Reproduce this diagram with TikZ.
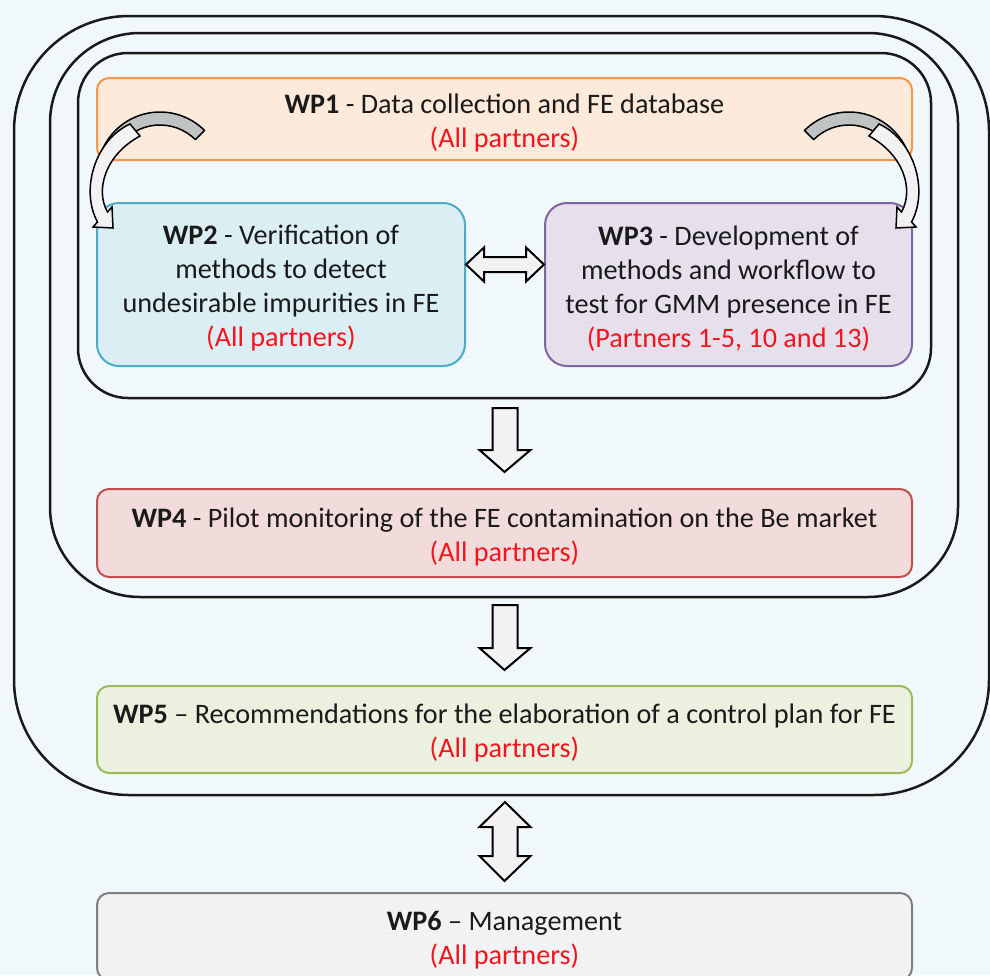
\documentclass[tikz,border=0pt]{standalone}
\usepackage{fontspec}
\setmainfont{Carlito}
\usepackage{xcolor}
\usepackage{tikz}
\usetikzlibrary{
    positioning, % relative placement
    calc % coordinate arithmetic
}

% colours (office theme)
\definecolor{bgblue}{RGB}{241,248,252}
\definecolor{txtgray}{RGB}{26,26,26}
\definecolor{partred}{RGB}{245,20,30}
\definecolor{orngline}{RGB}{247,150,70}
\definecolor{orngfill}{RGB}{253,234,218}
\definecolor{cyanline}{RGB}{75,172,198}
\definecolor{cyanfill}{RGB}{218,238,243}
\definecolor{purpline}{RGB}{128,100,162}
\definecolor{purpfill}{RGB}{229,224,236}
\definecolor{redline}{RGB}{192,80,77}
\definecolor{redfill}{RGB}{242,220,219}
\definecolor{grnline}{RGB}{155,187,89}
\definecolor{grnfill}{RGB}{235,241,222}
\definecolor{grayline}{RGB}{127,127,127}
\definecolor{grayfill}{RGB}{242,242,242}
\definecolor{bandgray}{RGB}{192,195,196}

\newcommand{\wpfont}{\fontsize{28.2}{34}\selectfont}
\newcommand{\partners}[1]{\textcolor{partred}{#1}}
\newcommand{\topstrut}{\rule{0pt}{27pt}} % pushes the text block a little down

\tikzset{
  wpbox/.style={draw, rounded corners=12pt, line width=2pt, inner sep=0pt,
                align=center, font=\wpfont, text=txtgray},
  container/.style={draw=txtgray, line width=2.5pt},
  blockarrow/.style={draw=black, fill=grayfill, line width=2pt, line join=miter},
  bandback/.style={draw=black, fill=bandgray, line width=1.5pt, line join=round},
  bandfront/.style={draw=black, fill=grayfill, line width=1.5pt, line join=miter}
}

% block arrow pointing down, from #1 to #2
\newcommand{\downblock}[2]{%
  \draw[blockarrow] let \p1=(#1), \p2=(#2) in
    (\x1-12.5pt,\y1) -- (\x1+12.5pt,\y1) -- (\x1+12.5pt,\y2+22pt)
    -- (\x1+25.5pt,\y2+22pt) -- (\p2) -- (\x1-25.5pt,\y2+22pt)
    -- (\x1-12.5pt,\y2+22pt) -- cycle;}
% block arrow both ways, vertical
\newcommand{\updownblock}[2]{%
  \draw[blockarrow] let \p1=(#1), \p2=(#2) in
    (\p1) -- (\x1+25.5pt,\y1-25pt) -- (\x1+12.5pt,\y1-25pt)
    -- (\x1+12.5pt,\y2+25pt) -- (\x1+25.5pt,\y2+25pt) -- (\p2)
    -- (\x1-25.5pt,\y2+25pt) -- (\x1-12.5pt,\y2+25pt)
    -- (\x1-12.5pt,\y1-25pt) -- (\x1-25.5pt,\y1-25pt) -- cycle;}
% block arrow both ways, horizontal
\newcommand{\lrblock}[2]{%
  \draw[blockarrow] let \p1=(#1), \p2=(#2) in
    (\p1) -- (\x1+18pt,\y1+17pt) -- (\x1+18pt,\y1+7.5pt)
    -- (\x2-18pt,\y1+7.5pt) -- (\x2-18pt,\y1+17pt) -- (\p2)
    -- (\x2-18pt,\y1-17pt) -- (\x2-18pt,\y1-7.5pt)
    -- (\x1+18pt,\y1-7.5pt) -- (\x1+18pt,\y1-17pt) -- cycle;}

\begin{document}
\begin{tikzpicture}[x=1pt, y=-1pt]
  % frame: 990 x 975, one unit = one pixel, y downwards
  \useasboundingbox (0,0) rectangle (990,975);
  \clip (0,0) rectangle (990,975);
  \fill[bgblue] (0,0) rectangle (990,975);

  % ===================== CONTAINERS =====================
  \draw[container, rounded corners=115pt] (14,16) rectangle (989,795);   % holds WP1-WP5
  \draw[container, rounded corners=90pt]  (50,33) rectangle (958,597);   % holds WP1-WP4
  \draw[container, rounded corners=50pt]  (78,53) rectangle (931,398);   % holds WP1-WP3

  % ===================== WORK PACKAGES =====================
  \node[wpbox, draw=orngline, fill=orngfill, minimum width=815pt, minimum height=82pt]
    (wp1) at (504.5,119)
    {\topstrut\textbf{WP1} - Data collection and FE database\\\partners{(All partners)}};
  \node[wpbox, draw=cyanline, fill=cyanfill, rounded corners=22pt,
        minimum width=368pt, minimum height=163pt]
    (wp2) at (281,284.5)
    {\topstrut\textbf{WP2} - Verification of\\methods to detect\\undesirable impurities in FE\\\partners{(All partners)}};
  \node[wpbox, draw=purpline, fill=purpfill, rounded corners=22pt,
        minimum width=367pt, minimum height=163pt]
    (wp3) at (728.5,284.5)
    {\topstrut\textbf{WP3} - Development of\\methods and workflow to\\test for GMM presence in FE\\\partners{(Partners 1-5, 10 and 13)}};
  \node[wpbox, draw=redline, fill=redfill, minimum width=815pt, minimum height=88pt]
    (wp4) at (504.5,533)
    {\topstrut\textbf{WP4} - Pilot monitoring of the FE contamination on the Be market\\\partners{(All partners)}};
  \node[wpbox, draw=grnline, fill=grnfill, minimum width=815pt, minimum height=87pt]
    (wp5) at (504.5,729.5)
    {\topstrut\textbf{WP5} -- Recommendations for the elaboration of a control plan for FE\\\partners{(All partners)}};
  \node[wpbox, draw=grayline, fill=grayfill, minimum width=815pt, minimum height=87pt]
    (wp6) at (504.5,936.5)
    {\topstrut\textbf{WP6} -- Management\\\partners{(All partners)}};

  % ===================== BLOCK ARROWS =====================
  \coordinate (h1) at ($(wp2.east)+(0,-20)$);
  \coordinate (h2) at ($(wp3.west)+(0,-20)$);
  \lrblock{h1}{h2}

  \coordinate (d1) at (505,408);
  \coordinate (d2) at ($(wp4.north)+(0,-16)$);
  \downblock{d1}{d2}

  \coordinate (d3) at (505,605);
  \coordinate (d4) at ($(wp5.north)+(0,-15)$);
  \downblock{d3}{d4}

  \coordinate (u1) at (505,802);
  \coordinate (u2) at ($(wp6.north)+(0,-11)$);
  \updownblock{u1}{u2}

  % ===================== CURVED ARROWS (WP1 -> WP2, WP1 -> WP3) =====================
  % left one drawn as is, right one mirrored about the box centre
  \foreach \s/\m in {0/1, 1009/-1}{
    \begin{scope}[shift={(\s,0)}, xscale=\m]
      % back face of the band
      \draw[bandback] (160,175) ++(-45:63) arc[start angle=-45, end angle=-155, radius=63]
        -- ($(160,175)+(-155:50)$) arc[start angle=-155, end angle=-45, radius=50] -- cycle;
      % front face with its head
      \draw[bandfront] (130,124) .. controls (95,140) and (80,190) .. (97.5,222)
        -- (93,227) -- (113,228) -- (112,207) -- (107.5,212)
        .. controls (95,190) and (105,155) .. (140,136) -- cycle;
    \end{scope}
  }
\end{tikzpicture}
\end{document}
